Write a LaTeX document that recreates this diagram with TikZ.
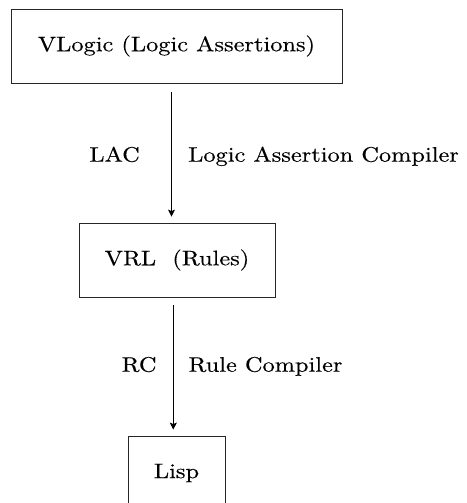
\documentclass[tikz,border=0pt]{standalone}
\usepackage{fontspec}
\usetikzlibrary{arrows.meta}
\newfontfamily\diagfont{lmroman10-regular}[Extension=.otf, FakeStretch=1.16, FakeBold=0.35]
\begin{document}
\begin{tikzpicture}[x=1pt,y=-1pt,
  every node/.style={font=\diagfont\fontsize{21}{25}\selectfont, inner sep=0pt},
  box/.style={draw=black!85, line width=0.8pt, minimum height=74pt},
  arr/.style={line width=1pt, -{Stealth[length=7pt,width=7pt,inset=1.5pt]}},
  lbl/.style={}]
\useasboundingbox (0,0) rectangle (466,503);
\node[box, minimum width=331pt] (vlogic) at (176.5,46) {VLogic (Logic Assertions)};
\node[box, minimum width=196pt] (vrl) at (177,260) {VRL\ \ (Rules)};
\node[box, minimum width=97pt] (lisp) at (176.5,473) {Lisp};
\draw[arr, shorten <=9pt, shorten >=6pt] ([xshift=-5pt]vlogic.south) -- ([xshift=-5pt]vlogic.south |- vrl.north);
\draw[arr, shorten <=8pt, shorten >=6pt] ([xshift=-3.7pt]vrl.south) -- ([xshift=-3.7pt]vrl.south |- lisp.north);
\node[lbl, anchor=base east] (lac) at (140,161.7) {LAC};
\node[lbl, anchor=base west] (lacname) at (188,161.7) {Logic Assertion Compiler};
\node[lbl, anchor=base east] (rc) at (156.7,371.7) {RC};
\node[lbl, anchor=base west] (rcname) at (188.3,371.7) {Rule Compiler};
\end{tikzpicture}
\end{document}
